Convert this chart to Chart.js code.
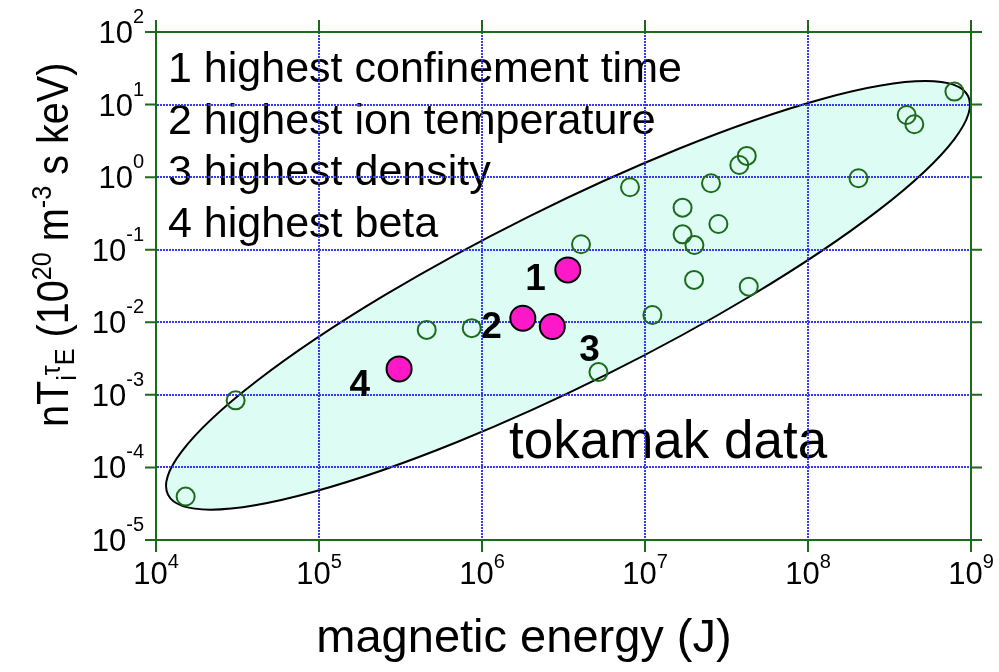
<!DOCTYPE html>
<html>
<head>
<meta charset="utf-8">
<script src="https://cdn.jsdelivr.net/npm/chart.js@4.4.1/dist/chart.umd.min.js"></script>
<style>
  html, body { margin: 0; padding: 0; background: #fff; }
</style>
</head>
<body>
<canvas id="myChart" width="999" height="672"></canvas>
<script>
// tokamak experiments: stored magnetic energy (J) vs n T_i tau_E (1e20 m^-3 s keV)
const energyJ = [1.52e4, 3.08e4, 4.58e5, 8.65e5, 4.05e6, 5.18e6, 8.09e6, 1.11e7, 1.70e7, 1.70e7, 2.01e7,
  2.0e7, 2.54e7, 2.82e7, 3.79e7, 4.21e7, 4.33e7, 2.04e8, 4.03e8, 4.49e8, 7.91e8];
const tripleProduct = [3.97e-5, 8.4e-4, 7.85e-3, 8.3e-3, 0.119, 2.06e-3, 0.726, 0.0126, 0.380, 0.163, 0.116,
  0.0384, 0.824, 0.226, 1.47, 1.96, 0.031, 0.966, 7.19, 5.36, 15.1];

// record shots
const recordEnergy = [3.36e6, 1.78e6, 2.70e6, 3.10e5];
const recordProduct = [0.0527, 0.01138, 8.73e-3, 2.28e-3];
const recordLabels = ['1', '2', '3', '4'];

const legendLines = [
  '1 highest confinement time',
  '2 highest ion temperature',
  '3 highest density',
  '4 highest beta'
];

const xDecades = [4, 5, 6, 7, 8, 9];
const yDecades = [2, 1, 0, -1, -2, -3, -4, -5];

// shaded region: centre, end of long axis, end of short axis
const regionCenter = [3.37e6, 0.0235];
const regionMajorEnd = [9.59e8, 13.1];
const regionMinorEnd = [5.87e6, 1.93e-3];

const FONT = '"Liberation Sans", Arial, sans-serif';
const AXIS_GREEN = '#1c6b1c';

const toPx = (chart, p) => ({
  x: chart.scales.x.getPixelForValue(p[0]),
  y: chart.scales.y.getPixelForValue(p[1])
});

// draws runs of text with sizes / vertical shifts (for super/subscripts)
function drawRuns(ctx, runs, x, y) {
  let cx = x;
  runs.forEach(r => {
    ctx.font = (r.bold ? 'bold ' : '') + r.size + 'px ' + FONT;
    ctx.fillText(r.t, cx, y + (r.dy || 0));
    cx += ctx.measureText(r.t).width;
  });
  return cx - x;
}
function runsWidth(ctx, runs) {
  let w = 0;
  runs.forEach(r => {
    ctx.font = r.size + 'px ' + FONT;
    w += ctx.measureText(r.t).width;
  });
  return w;
}

const background = {
  id: 'background',
  beforeDraw(chart) {
    const ctx = chart.ctx;
    ctx.save();
    ctx.fillStyle = '#fff';
    ctx.fillRect(0, 0, chart.width, chart.height);

    // tokamak region
    const c = toPx(chart, regionCenter), a = toPx(chart, regionMajorEnd), b = toPx(chart, regionMinorEnd);
    const ra = Math.hypot(a.x - c.x, a.y - c.y);
    const rb = Math.hypot(b.x - c.x, b.y - c.y);
    const ang = Math.atan2(a.y - c.y, a.x - c.x);
    ctx.beginPath();
    ctx.ellipse(c.x, c.y, ra, rb, ang, 0, Math.PI * 2);
    ctx.fillStyle = '#dcfcf4';
    ctx.fill();
    ctx.lineWidth = 2;
    ctx.strokeStyle = '#000';
    ctx.stroke();

    // legend text
    ctx.fillStyle = '#000';
    ctx.textAlign = 'left';
    ctx.textBaseline = 'alphabetic';
    ctx.font = '43px ' + FONT;
    legendLines.forEach((t, i) => ctx.fillText(t, 168, 82 + i * 51.7));

    ctx.font = '53px ' + FONT;
    ctx.fillText('tokamak data', 509, 458);
    ctx.restore();
  }
};

const labelOffsets = [[-22, 20, 'right'], [-21, 20, 'right'], [27, 34, 'left'], [-29, 27, 'right']];

const decorations = {
  id: 'decorations',
  afterDraw(chart) {
    const ctx = chart.ctx;
    const { left, right, top, bottom } = chart.chartArea;
    const xs = chart.scales.x, ys = chart.scales.y;
    ctx.save();

    // frame and outward ticks
    ctx.strokeStyle = AXIS_GREEN;
    ctx.lineWidth = 2;
    ctx.beginPath();
    ctx.moveTo(left, top); ctx.lineTo(right, top); ctx.lineTo(right, bottom);
    ctx.lineTo(left, bottom); ctx.closePath();
    xDecades.forEach(d => {
      const px = xs.getPixelForValue(Math.pow(10, d));
      ctx.moveTo(px, bottom); ctx.lineTo(px, bottom + 12);
      ctx.moveTo(px, top); ctx.lineTo(px, top - 12);
    });
    yDecades.forEach(d => {
      const py = ys.getPixelForValue(Math.pow(10, d));
      ctx.moveTo(left, py); ctx.lineTo(left - 11, py);
      ctx.moveTo(right, py); ctx.lineTo(right + 11, py);
    });
    ctx.stroke();

    // tick labels
    ctx.fillStyle = '#000';
    ctx.textAlign = 'left';
    ctx.textBaseline = 'alphabetic';
    xDecades.forEach(d => {
      const px = xs.getPixelForValue(Math.pow(10, d));
      const runs = [{ t: '10', size: 31 }, { t: String(d), size: 20, dy: -16 }];
      const w = runsWidth(ctx, runs);
      drawRuns(ctx, runs, px - w / 2, bottom + 44);
    });
    yDecades.forEach(d => {
      const py = ys.getPixelForValue(Math.pow(10, d));
      const runs = [{ t: '10', size: 31 }, { t: String(d), size: 20, dy: -20 }];
      const w = runsWidth(ctx, runs);
      drawRuns(ctx, runs, 144 - w, py + 11);
    });

    // record labels
    ctx.font = 'bold 37px ' + FONT;
    recordLabels.forEach((t, i) => {
      const p = toPx(chart, [recordEnergy[i], recordProduct[i]]);
      const o = labelOffsets[i];
      ctx.textAlign = o[2];
      ctx.fillText(t, p.x + o[0], p.y + o[1]);
    });

    // axis titles
    ctx.textAlign = 'center';
    ctx.font = '47px ' + FONT;
    ctx.fillText('magnetic energy (J)', 524, 652);

    ctx.textAlign = 'left';
    ctx.translate(68, 427);
    ctx.rotate(-Math.PI / 2);
    ctx.scale(0.9, 1);
    drawRuns(ctx, [
      { t: 'nT', size: 44 },
      { t: 'i', size: 28, dy: 8 },
      { t: '\u03c4', size: 28, dy: -8 },
      { t: 'E', size: 28, dy: 6 },
      { t: ' (10', size: 44 },
      { t: '20', size: 28, dy: -17 },
      { t: ' m', size: 44 },
      { t: '-3', size: 28, dy: -17 },
      { t: ' s keV)', size: 44 }
    ], 0, 0);
    ctx.restore();
  }
};

const decadeTicks = list => scale => {
  scale.ticks = list.map(d => ({ value: Math.pow(10, d) }));
};

const gridStyle = {
  grid: { color: '#3a3af0', lineWidth: 2, drawTicks: false },
  border: { display: true, color: AXIS_GREEN, width: 2, dash: [2, 1] },
  ticks: { display: false }
};

const ctx = document.getElementById('myChart').getContext('2d');
const tokamakChart = new Chart(ctx, {
  type: 'scatter',
  data: {
    datasets: [
      {
        data: energyJ.map((e, i) => ({ x: e, y: tripleProduct[i] })),
        backgroundColor: 'rgba(0,0,0,0)',
        borderColor: '#1c6b1c',
        borderWidth: 2,
        pointRadius: 9,
        pointHoverRadius: 9
      },
      {
        data: recordEnergy.map((e, i) => ({ x: e, y: recordProduct[i] })),
        backgroundColor: '#ff18c8',
        borderColor: '#000',
        borderWidth: 2,
        pointRadius: 12.5,
        pointHoverRadius: 12.5
      }
    ]
  },
  options: {
    responsive: false,
    animation: false,
    devicePixelRatio: 1,
    layout: { padding: { left: 156, top: 32, right: 28, bottom: 132 } },
    plugins: { legend: { display: false }, tooltip: { enabled: false } },
    scales: {
      x: Object.assign({ type: 'logarithmic', min: 1e4, max: 1e9, afterBuildTicks: decadeTicks(xDecades) }, gridStyle),
      y: Object.assign({ type: 'logarithmic', min: 1e-5, max: 1e2, afterBuildTicks: decadeTicks(yDecades) }, gridStyle)
    }
  },
  plugins: [background, decorations]
});
</script>
</body>
</html>
